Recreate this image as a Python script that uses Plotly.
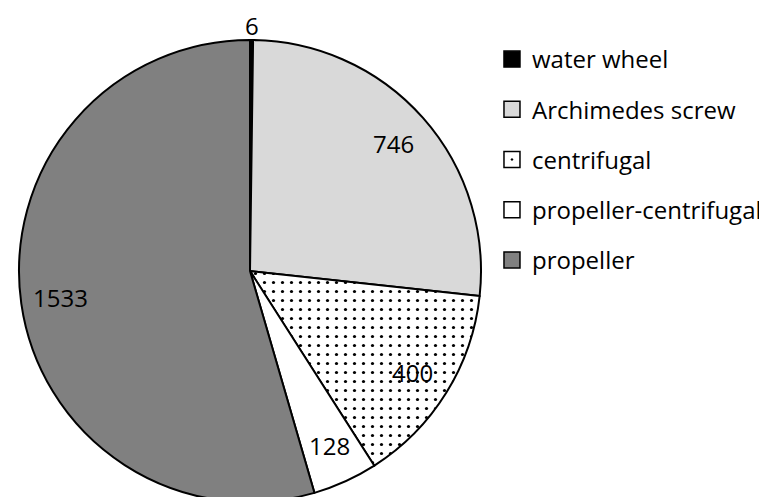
import math

import plotly.graph_objects as go

categories = ['water wheel', 'Archimedes screw', 'centrifugal', 'propeller-centrifugal', 'propeller']
counts = [6, 746, 400, 128, 1533]
colors = ['#000000', '#d9d9d9', '#ffffff', '#ffffff', '#808080']
patterns = ['', '', '.', '', '']
legend_symbols = ['square', 'square', 'square-dot', 'square', 'square']

W, H = 767, 510
font = 'Open Sans, Noto Sans, sans-serif'

# pie geometry in pixels (center and radius), page body adds ~8px offset
cx, cy, r = 242, 263, 231

pie = go.Pie(
    labels=categories,
    values=counts,
    sort=False,
    direction='clockwise',
    rotation=0,
    textinfo='none',
    marker=dict(
        colors=colors,
        line=dict(color='black', width=2),
        pattern=dict(shape=patterns, fgcolor='black', size=9, solidity=0.1),
    ),
    domain=dict(x=[(cx - r) / W, (cx + r) / W], y=[(H - cy - r) / H, (H - cy + r) / H]),
    showlegend=False,
    hoverinfo='label+value',
)

data = [pie]
for name, color, symbol in zip(categories, colors, legend_symbols):
    data.append(go.Scatter(
        x=[None], y=[None],
        mode='markers',
        name=name,
        legendgroup=name,
        marker=dict(symbol=symbol, size=16, color=color, line=dict(color='black', width=1.5)),
    ))

# value labels along the middle of each slice, like Excel's best fit
total = sum(counts)
annotations = []
cum = 0
for v in counts:
    theta = math.radians((cum + v / 2) / total * 360)
    cum += v
    rad = r + 15 if v / total < 0.01 else 0.83 * r
    px = cx + rad * math.sin(theta)
    py = cy - rad * math.cos(theta)
    annotations.append(dict(
        x=px / W, y=(H - py) / H, xref='paper', yref='paper',
        xanchor='center', yanchor='middle',
        text=str(v), showarrow=False,
        font=dict(family=font, size=24, color='black'),
    ))

fig = go.Figure(data, layout=go.Layout(
    width=W,
    height=H,
    margin=dict(l=0, r=0, t=0, b=0),
    paper_bgcolor='white',
    plot_bgcolor='white',
    xaxis=dict(visible=False),
    yaxis=dict(visible=False),
    font=dict(family=font, size=24, color='black'),
    annotations=annotations,
    legend=dict(
        x=0.631, y=1 - 29 / H, xanchor='left', yanchor='top',
        tracegroupgap=16,
        font=dict(family=font, size=24, color='black'),
        bgcolor='rgba(0,0,0,0)',
    ),
))

fig.write_html('out.html')
